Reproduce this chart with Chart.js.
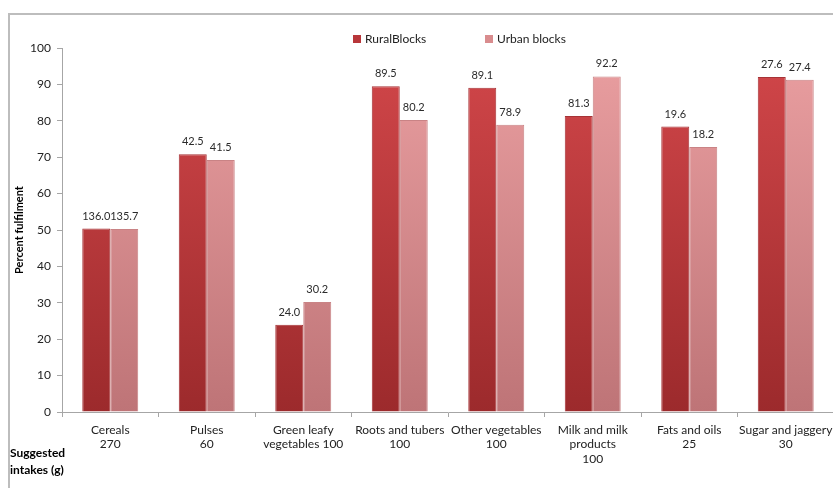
<!DOCTYPE html>
<html>
<head>
<meta charset="utf-8">
<script src="https://cdn.jsdelivr.net/npm/chart.js@4.4.0/dist/chart.umd.min.js"></script>
<style>
  html, body { margin: 0; padding: 0; background: #fff; overflow: hidden; }
  #frame { position: absolute; left: 8px; top: 13px; width: 900px; height: 600px;
           border-top: 2px solid #BDBDBD; border-left: 2px solid #BDBDBD; }
  #wrap { position: absolute; left: 0; top: 0; width: 840px; height: 488px; }
</style>
</head>
<body>
<div id="frame"></div>
<div id="wrap"><canvas id="c" width="840" height="488"></canvas></div>
<script>
// ---- data ----
const categories = [
  ["Cereals", "270"],
  ["Pulses", "60"],
  ["Green leafy", "vegetables 100"],
  ["Roots and tubers", "100"],
  ["Other vegetables", "100"],
  ["Milk and milk", "products", "100"],
  ["Fats and oils", "25"],
  ["Sugar and jaggery", "30"]
];
const seriesNames = ["RuralBlocks", "Urban blocks"];
// percent fulfilment (bar heights)
const ruralPercent = [50.4, 70.8, 24.0, 89.5, 89.1, 81.3, 78.4, 92.0];
const urbanPercent = [50.3, 69.2, 30.2, 80.2, 78.9, 92.2, 72.8, 91.3];
// intake values shown above bars (g)
const ruralIntake = ["136.0", "42.5", "24.0", "89.5", "89.1", "81.3", "19.6", "27.6"];
const urbanIntake = ["135.7", "41.5", "30.2", "80.2", "78.9", "92.2", "18.2", "27.4"];
const yTicks = { min: 0, max: 100, step: 10 };
const yTitle = "Percent fulfilment";
const footLabel = ["Suggested", "intakes (g)"];

const FONT = "Lato, 'Open Sans', sans-serif";
const legendColors = ['#B8363A', '#D98C8E'];
const legendX = [353, 485];

function grad(ctx, top, bottom) {
  const chart = ctx.chart;
  const a = chart.chartArea;
  if (!a) return top;
  const g = chart.ctx.createLinearGradient(0, a.top, 0, a.bottom);
  g.addColorStop(0, top);
  g.addColorStop(1, bottom);
  return g;
}

const labelPlugin = {
  id: 'labels',
  afterDatasetsDraw(chart) {
    const ctx = chart.ctx;
    ctx.save();
    ctx.font = "11px " + FONT;
    ctx.fillStyle = "#2b2b2b";
    ctx.textAlign = "center";
    ctx.textBaseline = "bottom";
    const texts = [ruralIntake, urbanIntake];
    chart.data.datasets.forEach((ds, di) => {
      const meta = chart.getDatasetMeta(di);
      meta.data.forEach((bar, i) => {
        ctx.fillText(texts[di][i], bar.x, bar.y - 7);
      });
    });
    ctx.restore();
  },
  afterDraw(chart) {
    const ctx = chart.ctx;
    // legend
    ctx.save();
    ctx.font = "12px " + FONT;
    ctx.textBaseline = "middle";
    ctx.textAlign = "left";
    chart.data.datasets.forEach((ds, di) => {
      ctx.fillStyle = legendColors[di];
      ctx.fillRect(legendX[di], 35, 8, 8);
      ctx.fillStyle = "#222";
      ctx.fillText(ds.label, legendX[di] + 12, 39);
    });
    ctx.restore();
    // y title
    ctx.save();
    ctx.font = "bold 11px " + FONT;
    ctx.fillStyle = "#000";
    ctx.textAlign = "center";
    ctx.textBaseline = "middle";
    ctx.translate(19, 230);
    ctx.rotate(-Math.PI / 2);
    ctx.fillText(yTitle, 0, 0);
    ctx.restore();
    // foot label
    ctx.save();
    ctx.font = "bold 12px " + FONT;
    ctx.fillStyle = "#000";
    ctx.textAlign = "left";
    ctx.textBaseline = "middle";
    ctx.fillText(footLabel[0], 10, 453);
    ctx.fillText(footLabel[1], 10, 470);
    ctx.restore();
  }
};

new Chart(document.getElementById('c'), {
  type: 'bar',
  data: {
    labels: categories,
    datasets: [
      {
        label: seriesNames[0],
        data: ruralPercent,
        backgroundColor: c => grad(c, '#D2474A', '#9C2A2C'),
        borderColor: '#A63336',
        borderWidth: 1
      },
      {
        label: seriesNames[1],
        data: urbanPercent,
        backgroundColor: c => grad(c, '#EA9FA1', '#BE7477'),
        borderColor: '#C98385',
        borderWidth: 1
      }
    ]
  },
  options: {
    responsive: false,
    animation: false,
    devicePixelRatio: 1,
    layout: { padding: { left: 0, right: 6, top: 48, bottom: 0 } },
    plugins: {
      legend: { display: false },
      tooltip: { enabled: false }
    },
    scales: {
      x: {
        grid: { drawOnChartArea: false, color: '#A6A6A6', tickLength: 5, offset: true },
        border: { color: '#A6A6A6', width: 1 },
        ticks: { font: { family: FONT, size: 12 }, color: '#222', maxRotation: 0, autoSkip: false, padding: 6 },
        afterFit: s => { s.height = 76; }
      },
      y: {
        min: yTicks.min, max: yTicks.max,
        grid: { drawOnChartArea: false, color: '#A6A6A6', tickLength: 5 },
        border: { color: '#A6A6A6', width: 1 },
        ticks: { stepSize: yTicks.step, font: { family: FONT, size: 12 }, color: '#222', padding: 6 },
        afterFit: s => { s.width = 62; }
      }
    },
    datasets: { bar: { categoryPercentage: 0.58, barPercentage: 1.0 } }
  },
  plugins: [labelPlugin]
});
</script>
</body>
</html>
